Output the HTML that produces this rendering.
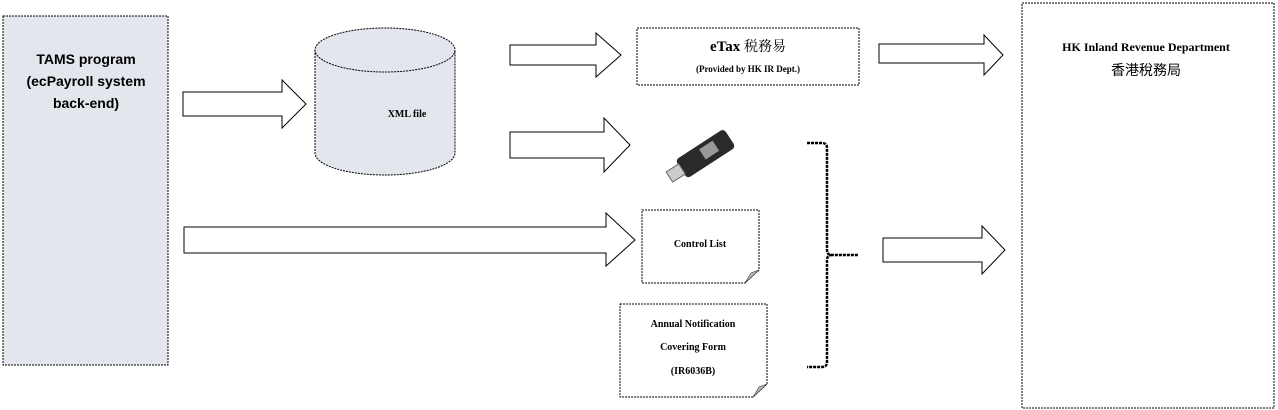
<!DOCTYPE html>
<html><head><meta charset="utf-8"><style>
html,body{margin:0;padding:0;background:#fff;width:1278px;height:410px;overflow:hidden}
svg{display:block}
</style></head><body>
<svg width="1278" height="410" xmlns="http://www.w3.org/2000/svg" font-family="'Liberation Serif','Noto Serif CJK SC',serif">
<g stroke="#000" stroke-width="1" stroke-dasharray="2,1">
<rect x="3" y="16" width="165" height="349" fill="#e4e6ee"/>
<path d="M315,50 V153 A70,22 0 0 0 455,153 V50" fill="#e4e6ee"/>
<ellipse cx="385" cy="50" rx="70" ry="22" fill="#e4e6ee"/>
<rect x="637" y="28" width="222" height="57" fill="#fff"/>
<rect x="1022" y="3" width="252" height="405" fill="#fff"/>
<path d="M642,210 H759 V270 L745,283 H642 Z" fill="#fff"/>
<path d="M620,304 H767 V384 L753,397 H620 Z" fill="#fff"/>
</g>
<g stroke="#000" stroke-width="1" fill="#fff">
<path d="M183,92 H282 V80 L306,104 L282,128 V116 H183 Z"/>
<path d="M510,45 H596 V33 L621,55 L596,77 V65 H510 Z"/>
<path d="M510,132 H604 V118 L630,145 L604,172 V158 H510 Z"/>
<path d="M879,44 H984 V35 L1003,55 L984,75 V63 H879 Z"/>
<path d="M184,227 H606 V213 L635,240 L606,266 V253 H184 Z"/>
<path d="M883,238 H982 V226 L1005,250 L982,274 V262 H883 Z"/>
</g>
<path d="M745,283 L759,270 L751,273 Z" fill="#bbb" stroke="#000" stroke-width="0.5"/>
<path d="M753,397 L767,384 L759,387 Z" fill="#bbb" stroke="#000" stroke-width="0.5"/>
<path d="M807,143 H822 Q827,143 827,148 V250 Q827,255 832,255 H858 M832,255 Q827,255 827,260 V362 Q827,367 822,367 H807" fill="none" stroke="#000" stroke-width="2.5" stroke-dasharray="3,1"/>
<g transform="translate(708,152) rotate(-33)">
<rect x="-32" y="-11" width="58" height="22" rx="4" fill="#2a2a2a"/>
<rect x="-6" y="-7" width="16" height="12" fill="#999"/>
<rect x="-46" y="-6" width="15" height="12" fill="#ccc" stroke="#666"/>
</g>
<g font-weight="bold" font-family="'Liberation Sans',sans-serif" font-size="14" text-anchor="middle" fill="#000">
<text x="86" y="64">TAMS program</text>
<text x="86" y="86">(ecPayroll system</text>
<text x="86" y="108">back-end)</text>
</g>
<g font-weight="bold" text-anchor="middle" fill="#000">
<text x="407" y="117" font-size="10">XML file</text>
<text x="748" y="51" font-size="15">eTax <tspan font-weight="normal" font-size="14">税務易</tspan></text>
<text x="748" y="72" font-size="9">(Provided by HK IR Dept.)</text>
<text x="1146" y="51" font-size="12">HK Inland Revenue Department</text>
<text x="1146" y="75" font-size="14" font-weight="normal" font-family="'Noto Sans CJK TC',sans-serif">香港稅務局</text>
<text x="700" y="247" font-size="10">Control List</text>
<text x="693" y="327" font-size="10">Annual Notification</text>
<text x="693" y="350" font-size="10">Covering Form</text>
<text x="693" y="374" font-size="10">(IR6036B)</text>
</g>
</svg>
</body></html>
